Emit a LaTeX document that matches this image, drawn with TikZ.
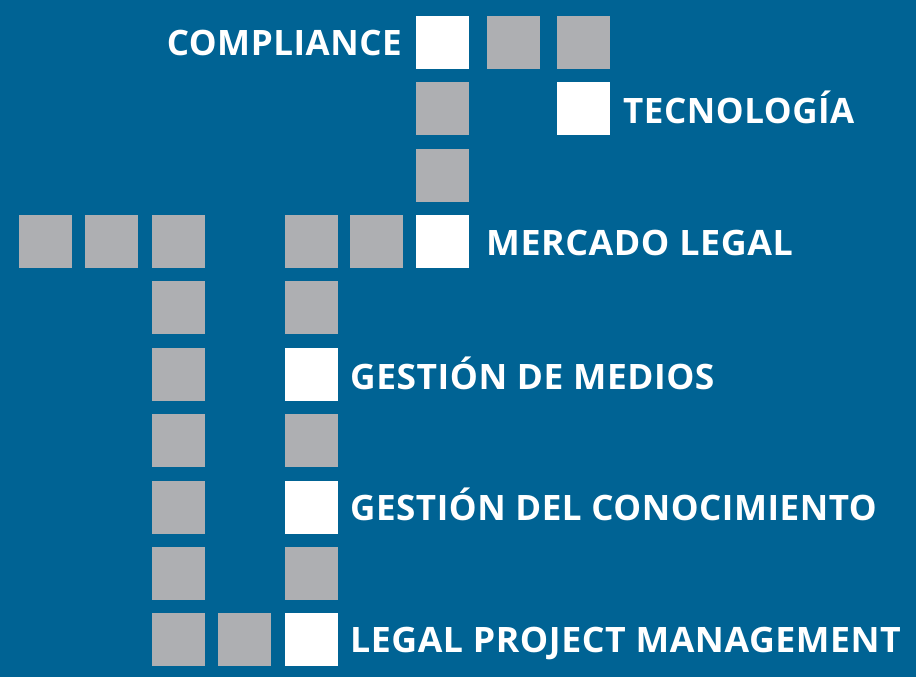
\documentclass[tikz,border=0pt]{standalone}
\usepackage{fontspec}
\setmainfont{Open Sans}[LetterSpace=1.5]
\definecolor{bgblue}{HTML}{006394}
\definecolor{sqgray}{HTML}{AEAFB2}
\begin{document}
\begin{tikzpicture}[x=1pt,y=-1pt,
  sq/.style={rectangle,minimum size=53pt,inner sep=0pt,anchor=north west,fill=sqgray},
  wsq/.style={sq,fill=white},
  lbl/.style={text=white,inner sep=0pt,font=\fontsize{35}{38}\selectfont\bfseries}]
\fill[bgblue] (0,0) rectangle (916,677);
\useasboundingbox (0,0) rectangle (916,677);
% row 1
\node[wsq] (c1) at (416,16) {};
\node[sq] (g1) at (487,16) {};
\node[sq] (g2) at (557,16) {};
% row 2
\node[sq] (g3) at (416,82) {};
\node[wsq] (t1) at (557,82) {};
% row 3
\node[sq] (g4) at (416,149) {};
% row 4
\node[sq] (g5) at (19,215) {};
\node[sq] (g6) at (85,215) {};
\node[sq] (g7) at (152,215) {};
\node[sq] (g8) at (285,215) {};
\node[sq] (g9) at (350,215) {};
\node[wsq] (m1) at (416,215) {};
% row 5
\node[sq] (g10) at (152,281) {};
\node[sq] (g11) at (285,281) {};
% row 6
\node[sq] (g12) at (152,348) {};
\node[wsq] (d1) at (285,348) {};
% row 7
\node[sq] (g13) at (152,414) {};
\node[sq] (g14) at (285,414) {};
% row 8
\node[sq] (g15) at (152,481) {};
\node[wsq] (k1) at (285,481) {};
% row 9
\node[sq] (g16) at (152,547) {};
\node[sq] (g17) at (285,547) {};
% row 10
\node[sq] (g18) at (152,613) {};
\node[sq] (g19) at (218,613) {};
\node[wsq] (p1) at (285,613) {};
% labels
\node[lbl,anchor=base east] (lc) at (402,56) {COMPLIANCE};
\node[lbl,anchor=base west] (lt) at (623,123) {TECNOLOGÍA};
\node[lbl,anchor=base west] (lm) at (486,255) {\scalebox{1.024}[1]{MERCADO LEGAL}};
\node[lbl,anchor=base west] (ld) at (350,389) {\scalebox{1.01}[1]{GESTIÓN DE MEDIOS}};
\node[lbl,anchor=base west] (lk) at (350,520) {GESTIÓN DEL CONOCIMIENTO};
\node[lbl,anchor=base west] (lp) at (350,652) {\scalebox{1.02}[1]{LEGAL PROJECT MANAGEMENT}};
\end{tikzpicture}
\end{document}
